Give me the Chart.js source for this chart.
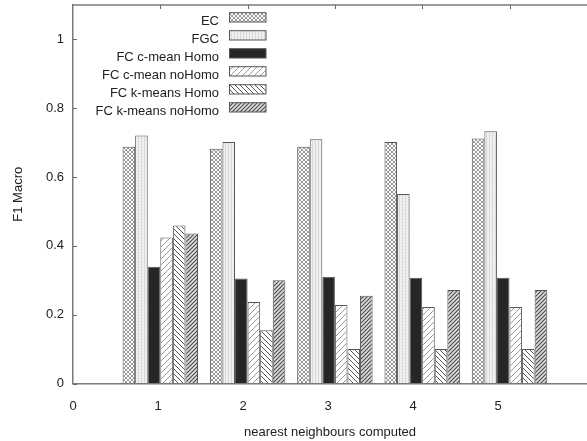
<!DOCTYPE html>
<html><head><meta charset="utf-8">
<script src="https://cdn.jsdelivr.net/npm/chart.js@4"></script>
<style>html,body{margin:0;padding:0;background:#fff}</style>
</head><body>
<canvas id="c" width="587" height="441"></canvas>
<script>
// ---- data ----
const groups = [1, 2, 3, 4, 5];
const xTickLabels = [0, 1, 2, 3, 4, 5];
const yTicks = [0, 0.2, 0.4, 0.6, 0.8, 1];
const seriesNames = ["EC", "FGC", "FC c-mean Homo", "FC c-mean noHomo", "FC k-means Homo", "FC k-means noHomo"];
const EC      = [0.688, 0.682, 0.688, 0.702, 0.712];
const FGC     = [0.721, 0.702, 0.710, 0.551, 0.733];
const cHomo   = [0.339, 0.305, 0.310, 0.307, 0.307];
const cNoHomo = [0.424, 0.237, 0.228, 0.222, 0.222];
const kHomo   = [0.459, 0.155, 0.100, 0.100, 0.100];
const kNoHomo = [0.436, 0.300, 0.255, 0.272, 0.272];
const seriesValues = [EC, FGC, cHomo, cNoHomo, kHomo, kNoHomo];

const canvas = document.getElementById('c');
const ctx = canvas.getContext('2d');

function tile(size, bg, draw) {
  const c = document.createElement('canvas');
  c.width = size; c.height = size;
  const g = c.getContext('2d');
  g.fillStyle = bg; g.fillRect(0, 0, size, size);
  draw(g, size);
  return ctx.createPattern(c, 'repeat');
}
function slash(g, s, color, w) {
  g.strokeStyle = color; g.lineWidth = w;
  g.beginPath();
  g.moveTo(-1, s + 1); g.lineTo(s + 1, -1);
  g.moveTo(-1, 1); g.lineTo(1, -1);
  g.moveTo(s - 1, s + 1); g.lineTo(s + 1, s - 1);
  g.stroke();
}
function backslash(g, s, color, w) {
  g.strokeStyle = color; g.lineWidth = w;
  g.beginPath();
  g.moveTo(-1, -1); g.lineTo(s + 1, s + 1);
  g.moveTo(s - 1, -1); g.lineTo(s + 1, 1);
  g.moveTo(-1, s - 1); g.lineTo(1, s + 1);
  g.stroke();
}
const fills = [
  tile(4, '#ffffff', (g, s) => { slash(g, s, '#999999', 1); backslash(g, s, '#999999', 1); }),
  tile(3, '#f4f4f4', (g, s) => { g.fillStyle = '#d2d2d2'; g.fillRect(0, 0, 1, s); g.fillStyle = '#e6e6e6'; g.fillRect(0, 0, s, 1); }),
  '#262626',
  tile(6, '#ffffff', (g, s) => slash(g, s, '#9a9a9a', 1)),
  tile(5, '#ffffff', (g, s) => backslash(g, s, '#555555', 1)),
  tile(4, '#dcdcdc', (g, s) => slash(g, s, '#4a4a4a', 1.1))
];

const datasets = seriesNames.map((name, i) => ({
  label: name,
  data: groups.map((g, j) => ({ x: g, y: seriesValues[i][j] })),
  backgroundColor: fills[i],
  borderColor: '#555555',
  borderWidth: 1,
  xAxisID: 'x',
  yAxisID: 'y',
  categoryPercentage: 0.864,
  barPercentage: 1.0
}));

Chart.defaults.font.family = '"Liberation Sans", Arial, sans-serif';
Chart.defaults.font.size = 13;
Chart.defaults.color = '#222';

const LEFT = 73, TOP = 5, BOTTOM = 383.5, RIGHT = 587;

function noPad(s) { s.paddingTop = 0; s.paddingBottom = 0; s.paddingLeft = 0; s.paddingRight = 0; }

const framePlugin = {
  id: 'frame',
  afterDraw(chart) {
    const c = chart.ctx;
    const xs = chart.scales.x, ys = chart.scales.y;
    const top = chart.chartArea.top, left = chart.chartArea.left;
    c.save();
    c.strokeStyle = '#666'; c.lineWidth = 1;
    c.beginPath();
    groups.forEach(g => {
      const px = Math.round(xs.getPixelForValue(g)) + 0.5;
      c.moveTo(px, top); c.lineTo(px, top + 4);
    });
    yTicks.forEach(v => {
      const py = Math.round(ys.getPixelForValue(v)) + 0.5;
      c.moveTo(left, py); c.lineTo(left + 4, py);
    });
    c.stroke();
    // legend
    c.font = '13px "Liberation Sans", Arial, sans-serif';
    c.textAlign = 'right';
    c.textBaseline = 'alphabetic';
    chart.data.datasets.forEach((ds, i) => {
      const t = 12.7 + 18 * i;
      c.fillStyle = ds.backgroundColor;
      c.fillRect(229, t, 37, 9.3);
      c.strokeStyle = '#555'; c.lineWidth = 1;
      c.strokeRect(229.5, t, 36.5, 9.3);
      c.fillStyle = '#222';
      c.fillText(ds.label, 219, t + 12.6);
    });
    c.restore();
  }
};

new Chart(canvas, {
  type: 'bar',
  data: { datasets },
  options: {
    responsive: false,
    animation: false,
    devicePixelRatio: 1,
    layout: { padding: 0 },
    plugins: { legend: { display: false }, tooltip: { enabled: false } },
    scales: {
      x: {
        type: 'linear', position: 'top', offset: false,
        min: 0, max: (RIGHT - LEFT) / 87.3,
        ticks: { display: false, stepSize: 1 },
        grid: { display: true, drawOnChartArea: false, drawTicks: false },
        border: { display: true, color: '#9c9c9c', width: 2 },
        afterFit(s) { s.height = TOP; noPad(s); }
      },
      x2: {
        type: 'linear', position: 'bottom', offset: false,
        min: 0, max: (RIGHT - LEFT) / 85,
        afterBuildTicks(s) { s.ticks = xTickLabels.map(v => ({ value: v })); },
        ticks: { padding: 15, color: '#222', callback: v => String(v), maxRotation: 0 },
        grid: { display: true, drawOnChartArea: false, drawTicks: false },
        border: { display: true, color: '#7a7a7a', width: 1.5 },
        title: { display: true, text: 'nearest neighbours computed', color: '#222', padding: { top: 4, bottom: 1 } },
        afterFit(s) { s.height = 441 - BOTTOM; noPad(s); }
      },
      y: {
        type: 'linear', position: 'left',
        min: 0, max: 1.1,
        afterBuildTicks(s) { s.ticks = yTicks.map(v => ({ value: v })); },
        ticks: { padding: 9, color: '#222', callback: v => String(v) },
        grid: { display: true, drawOnChartArea: false, drawTicks: false },
        border: { display: true, color: '#7a7a7a', width: 1.5 },
        title: { display: true, text: 'F1 Macro', color: '#222', padding: { top: 11, bottom: 0 } },
        afterFit(s) { s.width = LEFT; noPad(s); }
      }
    }
  },
  plugins: [framePlugin]
});
</script>
</body></html>
